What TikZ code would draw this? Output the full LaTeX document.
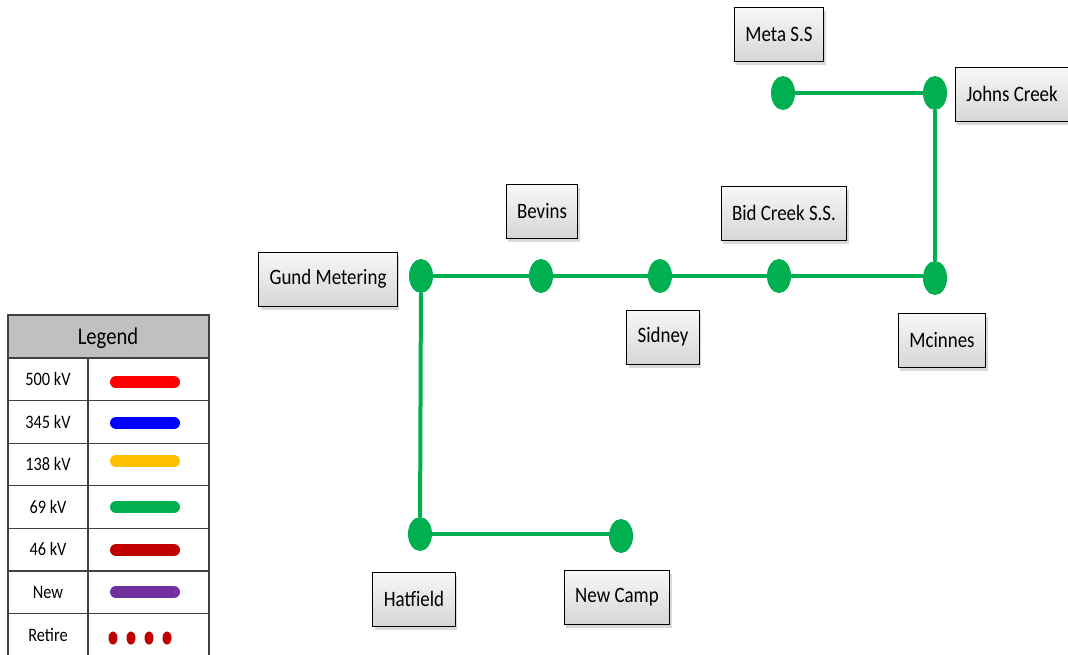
\documentclass[tikz,border=0pt]{standalone}
\usepackage{fontspec}
\setmainfont[FakeStretch=0.86]{Carlito}
\usetikzlibrary{shapes.geometric,shadows}
\definecolor{kvred}{HTML}{FF0000}
\definecolor{kvblue}{HTML}{0000FF}
\definecolor{kvyellow}{HTML}{FFC000}
\definecolor{kvgreen}{HTML}{00B050}
\definecolor{kvdarkred}{HTML}{C00000}
\definecolor{kvpurple}{HTML}{7030A0}
\definecolor{legendgray}{HTML}{C0C0C0}
\tikzset{
  station/.style={draw=black, line width=1pt, top color=gray!6, bottom color=gray!32,
    drop shadow={opacity=0.3, shadow xshift=2pt, shadow yshift=-4pt},
    minimum height=54pt, inner xsep=11pt, font=\fontsize{22}{25}\selectfont},
  bus/.style={ellipse, fill=kvgreen, inner sep=0pt, minimum width=24pt, minimum height=34pt},
  line69/.style={kvgreen, line width=4pt},
  legendline/.style={line width=12pt, line cap=round},
  legendcell/.style={line width=1.2pt, draw=black!75},
}
\begin{document}
\begin{tikzpicture}[x=1pt,y=-1pt]
\useasboundingbox (0,0) rectangle (1068,654);

\node [station] (meta) at (779,34) {Meta S.S};
\node [station] (johns) at (1012,94) {Johns Creek};
\node [station] (bevins) at (542,211) {Bevins};
\node [station] (bidcreek) at (784,213) {Bid Creek S.S.};
\node [station] (gund) at (328,279) {Gund Metering};
\node [station] (sidney) at (663,337) {Sidney};
\node [station] (mcinnes) at (942,340) {Mcinnes};
\node [station] (hatfield) at (414,599) {Hatfield};
\node [station] (newcamp) at (617,597) {New Camp};

\node [bus] (metabus) at (783,93) {};
\node [bus] (johnsbus) at (935,93) {};
\node [bus] (gundbus) at (421,276) {};
\node [bus] (bevinsbus) at (541,276) {};
\node [bus] (sidneybus) at (660,276) {};
\node [bus] (bidcreekbus) at (779,276) {};
\node [bus] (mcinnesbus) at (935,278) {};
\node [bus] (hatfieldbus) at (420,534) {};
\node [bus] (newcampbus) at (621,536) {};

\draw [line69] (metabus) -- (johnsbus);
\draw [line69] (johnsbus) -- (mcinnesbus);
\draw [line69] (gundbus) -- (bevinsbus);
\draw [line69] (bevinsbus) -- (sidneybus);
\draw [line69] (sidneybus) -- (bidcreekbus);
\draw [line69] (bidcreekbus) -- (mcinnesbus.west |- bidcreekbus);
\draw [line69] (gundbus) -- (hatfieldbus);
\draw [line69] (hatfieldbus) -- (newcampbus.west |- hatfieldbus);

\draw [legendcell, fill=legendgray] (8,315) rectangle (209,358);
\node (legend) at (108,338) {\fontsize{24}{27}\selectfont Legend};
\foreach \lab [count=\i] in {500 kV, 345 kV, 138 kV, 69 kV, 46 kV, New, Retire} {
  \draw [legendcell] (8,358+42.6*\i-42.6) rectangle (88,358+42.6*\i);
  \draw [legendcell] (88,358+42.6*\i-42.6) rectangle (209,358+42.6*\i);
  \node at (48,379+42.6*\i-42.6) {\fontsize{19}{22}\selectfont \lab};
}
\draw [legendline, kvred] (116,382) -- (174,382);
\draw [legendline, kvblue] (116,423) -- (174,423);
\draw [legendline, kvyellow] (116,461) -- (174,461);
\draw [legendline, kvgreen] (116,507) -- (174,507);
\draw [legendline, kvdarkred] (116,550) -- (174,550);
\draw [legendline, kvpurple] (116,592) -- (174,592);
\foreach \x in {113,131,149,167}
  \fill [kvdarkred] (\x,638) ellipse (4.5 and 6.5);

\end{tikzpicture}
\end{document}
